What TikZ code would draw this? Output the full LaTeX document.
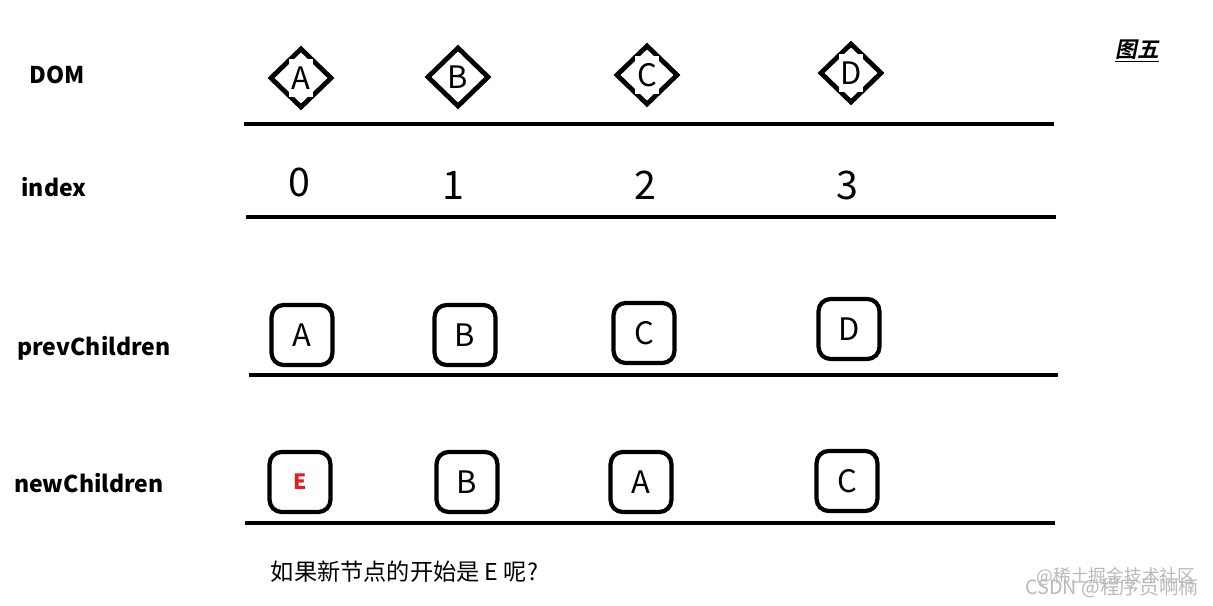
\documentclass[tikz,border=0pt]{standalone}
\usepackage{fontspec}
\setmainfont{Noto Sans CJK SC}
\newfontfamily\titlefont{Noto Sans CJK SC Bold}[FakeSlant=0.2]
\usetikzlibrary{shapes.geometric}
\definecolor{markred}{RGB}{225,30,40}
\tikzset{
  rowlabel/.style={font=\bfseries\fontsize{16.4}{20}\selectfont},
  rule/.style={line width=3pt},
  domnode/.style={diamond,draw,line width=3.4pt,minimum width=1.55cm,minimum height=1.5cm,inner sep=0pt},
  letter/.style={font=\fontsize{22}{26}\selectfont},
  digit/.style={font=\fontsize{28}{32}\selectfont},
  vbox/.style={draw,line width=3pt,rounded corners=0.3cm,minimum width=1.52cm,minimum height=1.5cm,inner sep=0pt,letter}
}
\begin{document}
\begin{tikzpicture}[x=0.025cm,y=-0.025cm]
\useasboundingbox (0,0) rectangle (1213,606);
% row labels
\node[rowlabel] (lbldom) at (57,75) {DOM};
\node[rowlabel] (lblindex) at (54,187) {index};
\node[rowlabel] (lblprev) at (94,348) {prevChildren};
\node[rowlabel] (lblnew) at (89,483) {newChildren};
\node (title) at (1137,51) {\fontsize{15.5}{18}\titlefont\underline{图五}};
% rules
\foreach \x/\xx/\y in {244/1054/124, 246/1056/217, 249/1058/375, 245/1055/523}
  \draw[rule] (\x,\y) -- (\xx,\y);
% DOM
\foreach \l/\x/\y/\f in {A/301/78/white, B/458/77/none, C/647/75/white, D/851/73/white}{
  \node[domnode] (dom\l) at (\x,\y) {};
  \node[letter,fill=\f,minimum width=0.62cm,minimum height=0.95cm,inner sep=0pt] (txt\l) at (dom\l) {\l};
}
% index
\foreach \i/\x/\y in {0/299/182, 1/453/185, 2/645/185, 3/847/185}
  \node[digit] (idx\i) at (\x,\y) {\i};
% prevChildren
\foreach \l/\x/\y in {A/302/335, B/465/335, C/644/333, D/849/329}
  \node[vbox] (prev\l) at (\x,\y) {\l};
% newChildren
\node[vbox,text=markred,font=\bfseries\fontsize{15}{18}\selectfont] (newE) at (300,482) {E};
\foreach \l/\x/\y in {B/467/482, A/641/482, C/847/481}
  \node[vbox] (new\l) at (\x,\y) {\l};
\node[anchor=west,font=\fontsize{16.5}{20}\selectfont] (question) at (266,572) {如果新节点的开始是 E 呢?};
% watermark
\node[text=gray!55,font=\fontsize{12.6}{15}\selectfont] (mark1) at (1116,577) {@稀土掘金技术社区};
\node[text=gray!55,font=\fontsize{14}{16}\selectfont] (mark2) at (1112,588) {CSDN @程序员啊楠};
\end{tikzpicture}
\end{document}
